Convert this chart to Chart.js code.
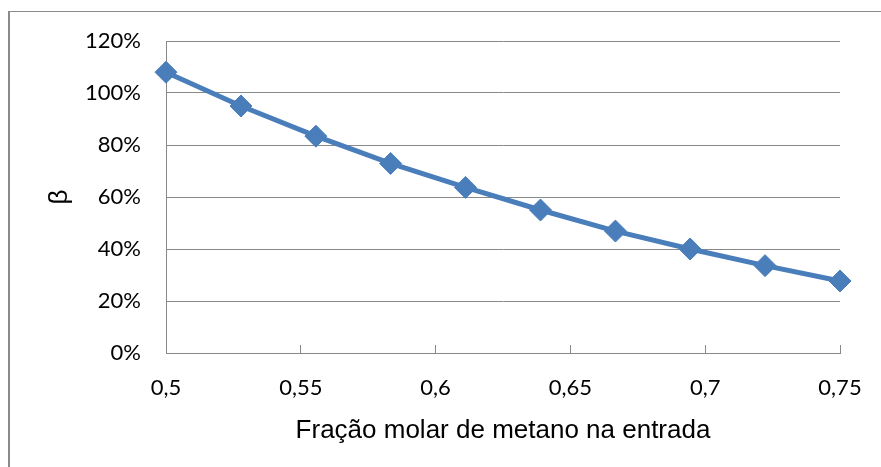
<!DOCTYPE html>
<html>
<head>
<meta charset="utf-8">
<script src="https://cdn.jsdelivr.net/npm/chart.js@4"></script>
<style>
  html, body { margin: 0; padding: 0; background: #fff; overflow: hidden; }
  #wrap { position: relative; width: 881px; height: 467px; }
  #frame { position: absolute; left: 8px; top: 11px; width: 900px; height: 500px;
           border-left: 2px solid #8a8a8a; border-top: 1px solid #8a8a8a; }
  canvas { position: absolute; left: 0; top: 0; }
</style>
</head>
<body>
<div id="wrap">
  <div id="frame"></div>
  <canvas id="chart" width="881" height="467"></canvas>
</div>
<script>
// fração molar de metano na entrada
const fracoes = [0.5, 0.5278, 0.5556, 0.5833, 0.6111, 0.6389, 0.6667, 0.6944, 0.7222, 0.75];
// beta (%)
const beta = [108, 95, 83.4, 72.9, 63.7, 55, 46.9, 40, 33.6, 27.7];

const azul = "#4a7ebb";
const cinza = "#898989";

new Chart(document.getElementById("chart"), {
  type: "line",
  data: {
    datasets: [{
      data: fracoes.map((x, i) => ({ x: x, y: beta[i] })),
      borderColor: azul,
      backgroundColor: azul,
      borderWidth: 5,
      pointStyle: "rectRot",
      pointRadius: 11,
      pointBorderWidth: 1,
      pointBackgroundColor: azul,
      pointBorderColor: azul,
      tension: 0,
      clip: false
    }]
  },
  options: {
    responsive: false,
    animation: false,
    layout: { padding: { left: 0, top: 41, right: 41, bottom: 0 } },
    plugins: { legend: { display: false }, tooltip: { enabled: false } },
    scales: {
      x: {
        type: "linear",
        min: 0.5, max: 0.75,
        afterFit: s => { s.height = 114; s.paddingLeft = 0; s.paddingRight = 0; },
        border: { color: cinza, width: 1 },
        grid: { drawOnChartArea: false, drawTicks: true, tickLength: -8, color: cinza },
        ticks: {
          stepSize: 0.05,
          padding: 30,
          color: "#000",
          font: { family: "Lato", size: 22 },
          callback: v => Number(v.toFixed(2)).toString().replace(".", ",")
        },
        title: {
          display: true,
          text: "Fração molar de metano na entrada",
          color: "#000",
          font: { family: "Liberation Sans", size: 26 },
          padding: { top: 0, bottom: 21 }
        }
      },
      y: {
        min: 0, max: 120,
        afterFit: s => { s.width = 166; s.paddingTop = 0; s.paddingBottom = 0; },
        border: { color: cinza, width: 1 },
        grid: { color: cinza, drawTicks: false },
        ticks: {
          stepSize: 20,
          padding: 25,
          color: "#000",
          font: { family: "Lato", size: 22 },
          callback: v => v + "%"
        },
        title: {
          display: true,
          text: "β",
          color: "#000",
          font: { family: "Liberation Sans", size: 26 },
          padding: { top: 44, bottom: 0 }
        }
      }
    }
  }
});
</script>
</body>
</html>
